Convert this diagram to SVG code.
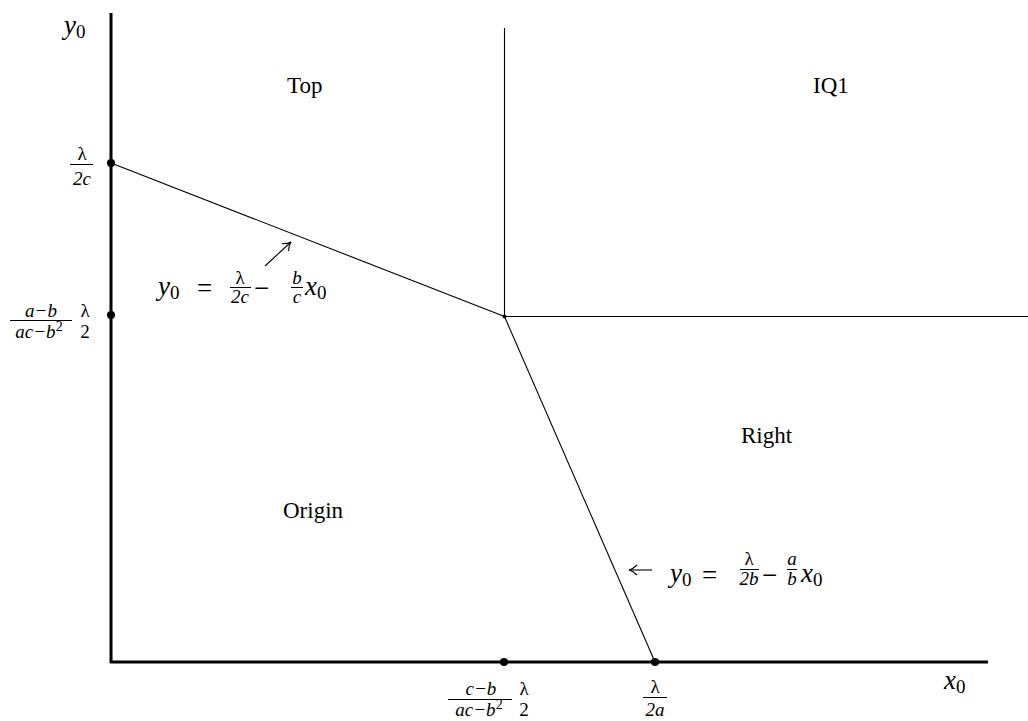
<svg xmlns="http://www.w3.org/2000/svg" width="1028" height="721" viewBox="0 0 1028 721">
<style>
text{font-family:"Liberation Serif","DejaVu Serif","Noto Serif",serif;fill:#000}
.lbl{font-size:23px}
.m{font-style:italic;font-size:27px}
.f{font-style:italic;font-size:19px;text-anchor:middle}
.fu{font-size:19px;text-anchor:middle}
.r{font-size:27px}
.ax{stroke:#000;stroke-width:3;fill:none}
.ln{stroke:#000;stroke-width:1.1;fill:none}
.bar{stroke:#000;stroke-width:1}
</style>
<defs>
<marker id="ah" markerWidth="12" markerHeight="12" refX="10" refY="6" orient="auto" markerUnits="userSpaceOnUse">
<path d="M2,1 Q6,5 10,6 Q6,7 2,11" fill="none" stroke="#000" stroke-width="1.1"/>
</marker>
</defs>
<g id="connectors">
<line class="ax" x1="111" y1="13" x2="111" y2="663"/>
<line class="ax" x1="110" y1="662" x2="988" y2="662"/>
<line class="ln" x1="111" y1="163" x2="504.5" y2="316.5"/>
<line class="ln" x1="504.5" y1="28" x2="504.5" y2="316.5"/>
<line class="ln" x1="504.5" y1="316.5" x2="1028" y2="316.5"/>
<line class="ln" x1="504.5" y1="316.5" x2="655" y2="662"/>
<line class="ln" x1="265" y1="266" x2="291" y2="242" marker-end="url(#ah)"/>
<line class="ln" x1="652" y1="570" x2="629" y2="570" marker-end="url(#ah)"/>
</g>
<g id="points">
<circle cx="111" cy="163" r="4"/>
<circle cx="111" cy="315" r="4"/>
<circle cx="504" cy="662" r="4"/>
<circle cx="655" cy="662" r="4"/>
<circle cx="504.5" cy="316.5" r="2"/>
</g>
<g id="axis-labels">
<text class="m" x="64" y="34">y<tspan font-style="normal" font-size="19" dy="4">0</tspan></text>
<text class="m" x="944" y="689">x<tspan font-style="normal" font-size="19" dy="4">0</tspan></text>
</g>
<g id="tick-lam2c">
<text class="fu" x="82" y="160">λ</text>
<line class="bar" x1="70" y1="164.5" x2="93" y2="164.5"/>
<text class="f" x="82" y="185">2c</text>
</g>
<g id="tick-y-mid">
<text class="f" x="41" y="317">a−b</text>
<line class="bar" x1="10" y1="320.5" x2="72" y2="320.5"/>
<text class="f" x="39" y="338">ac−b<tspan font-style="normal" font-size="14" dy="-7">2</tspan></text>
<text class="fu" x="85" y="317">λ</text>
<text class="fu" x="85" y="338">2</text>
</g>
<g id="tick-x-mid">
<text class="f" x="481" y="695">c−b</text>
<line class="bar" x1="448" y1="699.5" x2="512" y2="699.5"/>
<text class="f" x="479" y="716">ac−b<tspan font-style="normal" font-size="14" dy="-7">2</tspan></text>
<text class="fu" x="524" y="695">λ</text>
<text class="fu" x="524" y="716">2</text>
</g>
<g id="tick-lam2a">
<text class="fu" x="655" y="693">λ</text>
<line class="bar" x1="643" y1="697.5" x2="667" y2="697.5"/>
<text class="f" x="655" y="716">2a</text>
</g>
<g id="region-top"><text class="lbl" x="287" y="93">Top</text></g>
<g id="region-iq1"><text class="lbl" x="813" y="93">IQ1</text></g>
<g id="region-right"><text class="lbl" x="741" y="443">Right</text></g>
<g id="region-origin"><text class="lbl" x="283" y="518">Origin</text></g>
<g id="eq-top">
<text class="m" x="158" y="295">y<tspan font-style="normal" font-size="19" dy="4">0</tspan></text>
<text class="r" x="197" y="297">=</text>
<text class="fu" x="240" y="284" font-size="16">λ</text>
<line class="bar" x1="230" y1="287.5" x2="251" y2="287.5"/>
<text class="f" x="240" y="303" font-size="16">2c</text>
<text class="r" x="254" y="297">−</text>
<text class="f" x="297" y="284" font-size="16">b</text>
<line class="bar" x1="291" y1="287.5" x2="303" y2="287.5"/>
<text class="f" x="297" y="303" font-size="16">c</text>
<text class="m" x="305" y="295">x<tspan font-style="normal" font-size="19" dy="4">0</tspan></text>
</g>
<g id="eq-right">
<text class="m" x="670" y="582">y<tspan font-style="normal" font-size="19" dy="4">0</tspan></text>
<text class="r" x="702" y="584">=</text>
<text class="fu" x="749" y="565" font-size="16">λ</text>
<line class="bar" x1="740" y1="569.5" x2="759" y2="569.5"/>
<text class="f" x="749" y="585" font-size="16">2b</text>
<text class="r" x="762" y="584">−</text>
<text class="f" x="792" y="565" font-size="16">a</text>
<line class="bar" x1="787" y1="569.5" x2="797" y2="569.5"/>
<text class="f" x="792" y="585" font-size="16">b</text>
<text class="m" x="801" y="582">x<tspan font-style="normal" font-size="19" dy="4">0</tspan></text>
</g>
</svg>
